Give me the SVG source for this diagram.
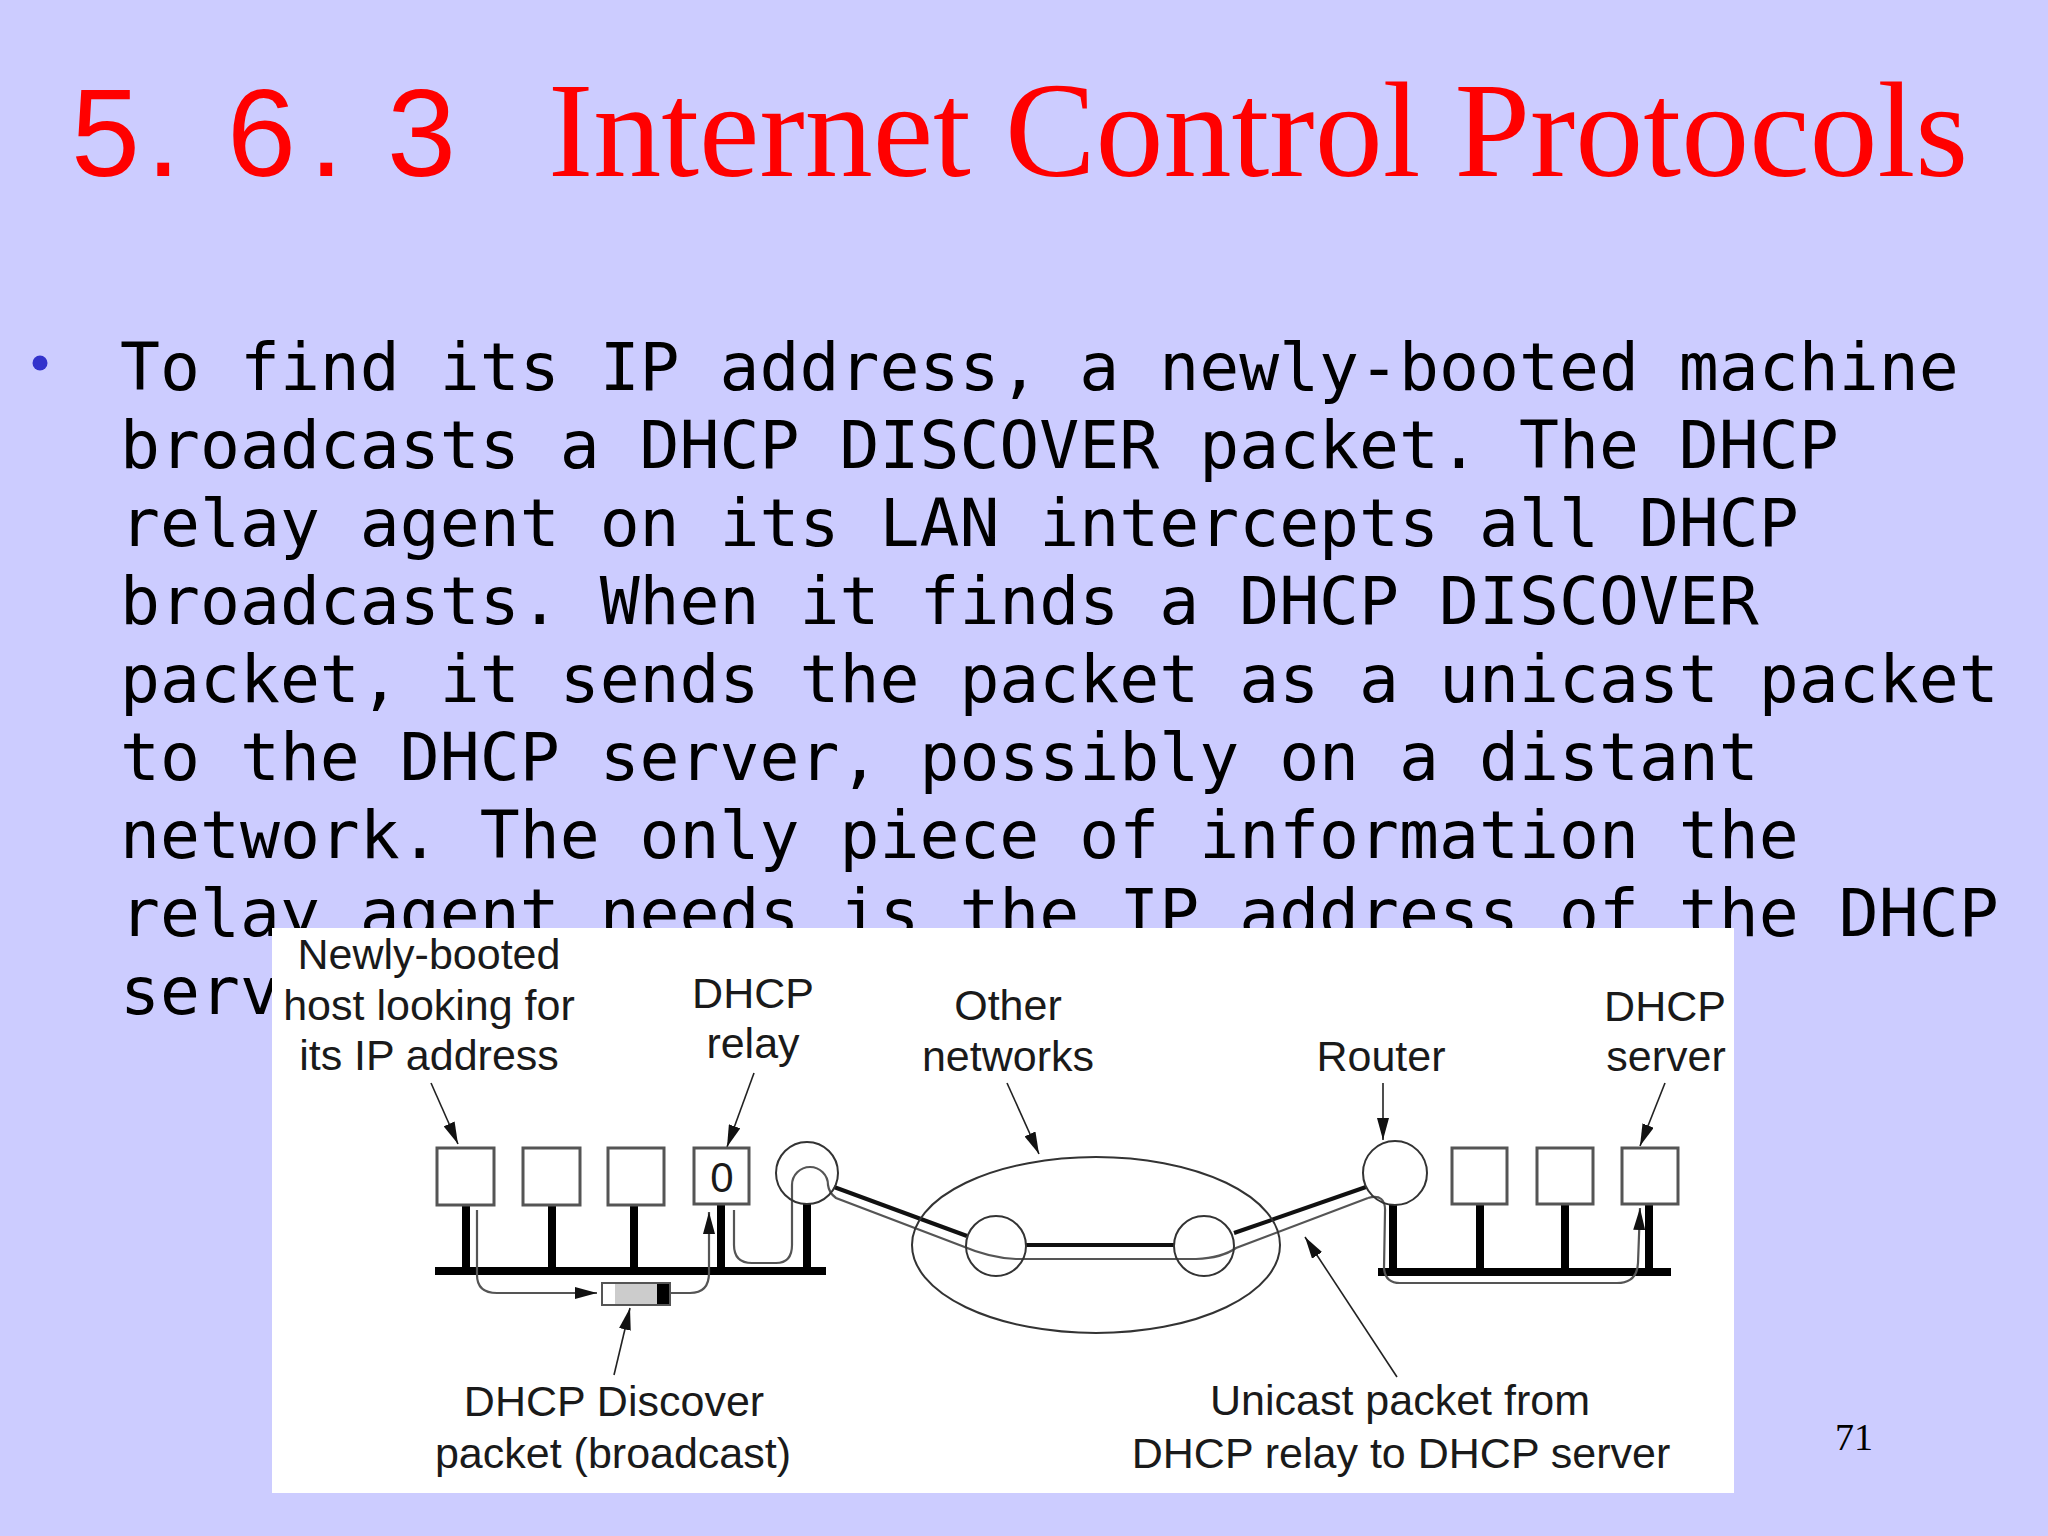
<svg xmlns="http://www.w3.org/2000/svg" width="2048" height="1536" viewBox="0 0 2048 1536">
<style>
.title{font-family:"Liberation Serif","Times New Roman",serif;font-size:136px;fill:#ff0000}
.num{font-family:"Liberation Sans",Arial,sans-serif;font-size:124px;fill:#ff0000}
.body{font-family:"DejaVu Sans Mono","Liberation Mono",monospace;font-size:66.4px;fill:#000}
.lbl{font-family:"Liberation Sans",Arial,sans-serif;font-size:43px;fill:#1a1a1a;text-anchor:middle}
.box{fill:#fff;stroke:#555;stroke-width:3}
.ring{fill:none;stroke:#333;stroke-width:2}
.stub{fill:#000}
.ptr{fill:none;stroke:#222;stroke-width:1.6;marker-end:url(#ah)}
.link{fill:none;stroke:#111;stroke-width:4}
.pkt{fill:none;stroke:#555;stroke-width:2.2}
.pkta{fill:none;stroke:#555;stroke-width:2.2;marker-end:url(#ah)}
</style>
<defs>
<marker id="ah" viewBox="0 0 22 12" refX="22" refY="6" markerWidth="22" markerHeight="12" markerUnits="userSpaceOnUse" orient="auto">
<path d="M0,0 L22,6 L0,12 z" fill="#111"/>
</marker>
</defs>
<rect width="2048" height="1536" fill="#ccccff"/>
<g id="title">
<text class="num" x="71" y="176">5</text>
<text class="num" x="146" y="176">.</text>
<text class="num" x="227" y="176">6</text>
<text class="num" x="309" y="176">.</text>
<text class="num" x="387" y="176">3</text>
<text class="title" x="548" y="176">Internet Control Protocols</text>
</g>
<g id="bullet-text">
<circle cx="40" cy="363" r="7.5" fill="#3333cc"/>
<text class="body" x="120" y="390">To find its IP address, a newly-booted machine</text>
<text class="body" x="120" y="468">broadcasts a DHCP DISCOVER packet. The DHCP</text>
<text class="body" x="120" y="546">relay agent on its LAN intercepts all DHCP</text>
<text class="body" x="120" y="624">broadcasts. When it finds a DHCP DISCOVER</text>
<text class="body" x="120" y="702">packet, it sends the packet as a unicast packet</text>
<text class="body" x="120" y="780">to the DHCP server, possibly on a distant</text>
<text class="body" x="120" y="858">network. The only piece of information the</text>
<text class="body" x="120" y="936">relay agent needs is the IP address of the DHCP</text>
<text class="body" x="120" y="1014">serv</text>
</g>
<rect id="panel" x="272" y="928" width="1462" height="565" fill="#ffffff"/>
<g id="connectors">
<rect x="435" y="1267" width="391" height="8" class="stub"/>
<rect x="1378" y="1268" width="293" height="8" class="stub"/>
<rect x="462" y="1204" width="8" height="66" class="stub"/>
<rect x="548" y="1204" width="8" height="66" class="stub"/>
<rect x="630" y="1204" width="8" height="66" class="stub"/>
<rect x="717" y="1203" width="8" height="67" class="stub"/>
<rect x="803" y="1203" width="8" height="67" class="stub"/>
<rect x="1389" y="1204" width="8" height="66" class="stub"/>
<rect x="1476" y="1204" width="8" height="66" class="stub"/>
<rect x="1561" y="1204" width="8" height="66" class="stub"/>
<rect x="1645" y="1204" width="8" height="66" class="stub"/>
<path class="link" d="M834 1187 L967 1236"/>
<path class="link" d="M1026 1245 L1174 1245"/>
<path class="link" d="M1234 1233 L1366 1187"/>
<path class="pkta" d="M477 1210 L477 1275 Q477 1293 497 1293 L597 1293"/>
<path class="pkta" d="M670 1293 L690 1293 Q709 1293 709 1273 L709 1212"/>
<path class="pkt" d="M734 1210 L734 1245 Q734 1263 752 1263 L776 1263 Q792 1263 792 1245 L792 1185 A18 18 0 0 1 828 1185 Q829 1193 836 1198 L962 1246 Q990 1258 1016 1259 L1196 1259 Q1222 1258 1236 1248 L1368 1198"/>
<path class="pkta" d="M1368 1198 Q1386 1193 1385 1212 L1384 1268 Q1385 1283 1400 1283 L1617 1283 Q1637 1283 1638 1263 L1640 1208"/>
<path class="ptr" d="M431 1083 L458 1144"/>
<path class="ptr" d="M754 1073 L727 1147"/>
<path class="ptr" d="M614 1375 L630 1308"/>
<path class="ptr" d="M1007 1083 L1039 1154"/>
<path class="ptr" d="M1383 1083 L1383 1140"/>
<path class="ptr" d="M1665 1083 L1640 1146"/>
<path class="ptr" d="M1397 1377 L1305 1237"/>
</g>
<g id="host1"><rect class="box" x="437" y="1148" width="57" height="57"/></g>
<g id="host2"><rect class="box" x="523" y="1148" width="57" height="57"/></g>
<g id="host3"><rect class="box" x="608" y="1148" width="56" height="57"/></g>
<g id="relay"><rect class="box" x="694" y="1148" width="55" height="56"/><text class="lbl" x="722" y="1192" style="font-size:42px">0</text></g>
<g id="router1"><circle class="ring" cx="807" cy="1173" r="31"/></g>
<g id="other-networks">
<ellipse class="ring" cx="1096" cy="1245" rx="184" ry="88"/>
<circle class="ring" cx="996" cy="1246" r="30"/>
<circle class="ring" cx="1204" cy="1246" r="30"/>
</g>
<g id="router2"><circle class="ring" cx="1395" cy="1173" r="32"/></g>
<g id="host5"><rect class="box" x="1452" y="1148" width="55" height="56"/></g>
<g id="host6"><rect class="box" x="1537" y="1148" width="56" height="56"/></g>
<g id="server"><rect class="box" x="1622" y="1148" width="56" height="56"/></g>
<g id="packet">
<rect x="602" y="1283" width="13" height="22" fill="#fff"/>
<rect x="615" y="1283" width="42" height="22" fill="#cccccc"/>
<rect x="657" y="1283" width="13" height="22" fill="#000"/>
<rect x="602" y="1283" width="68" height="22" fill="none" stroke="#555" stroke-width="2"/>
</g>
<g id="labels">
<text class="lbl" x="429" y="969">Newly-booted</text>
<text class="lbl" x="429" y="1020">host looking for</text>
<text class="lbl" x="429" y="1070">its IP address</text>
<text class="lbl" x="753" y="1008">DHCP</text>
<text class="lbl" x="753" y="1058">relay</text>
<text class="lbl" x="1008" y="1020">Other</text>
<text class="lbl" x="1008" y="1071">networks</text>
<text class="lbl" x="1381" y="1071">Router</text>
<text class="lbl" x="1665" y="1021">DHCP</text>
<text class="lbl" x="1666" y="1071">server</text>
<text class="lbl" x="614" y="1416">DHCP Discover</text>
<text class="lbl" x="613" y="1468">packet (broadcast)</text>
<text class="lbl" x="1400" y="1415">Unicast packet from</text>
<text class="lbl" x="1401" y="1468">DHCP relay to DHCP server</text>
</g>
<text id="page-number" x="1835" y="1450" style="font-family:'Liberation Serif','Times New Roman',serif;font-size:38px;fill:#000">71</text>
</svg>
